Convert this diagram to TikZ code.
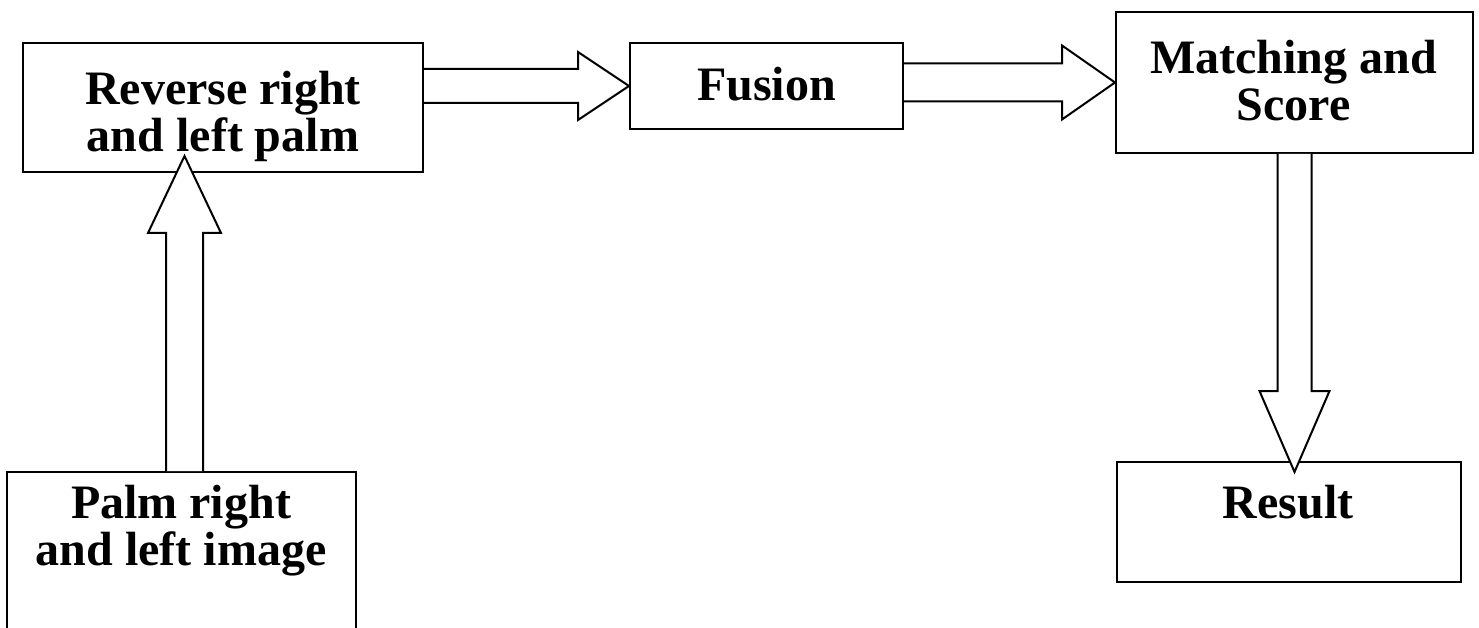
\documentclass[tikz,border=0pt]{standalone}
\usepackage{fontspec}
\setmainfont{Liberation Serif}
\usetikzlibrary{calc}

% Hollow block arrow from #1 to the tip #2:
% #3 = half shaft width, #4 = half head width, #5 = head length (all in pt)
\newcommand\fatarrow[5]{%
  \draw[blk] let \p1=(#1), \p2=(#2), \n1={atan2(\y2-\y1,\x2-\x1)} in
    ($(#1)+(\n1+90:#3pt)$)
    -- ($(#2)+(\n1+180:#5pt)+(\n1+90:#3pt)$)
    -- ($(#2)+(\n1+180:#5pt)+(\n1+90:#4pt)$)
    -- (#2)
    -- ($(#2)+(\n1+180:#5pt)+(\n1-90:#4pt)$)
    -- ($(#2)+(\n1+180:#5pt)+(\n1-90:#3pt)$)
    -- ($(#1)+(\n1-90:#3pt)$);%
}

\begin{document}
\begin{tikzpicture}[x=1pt,y=-1pt,
  box/.style={draw, line width=2pt, rectangle, inner sep=0pt},
  txt/.style={anchor=base, align=center, inner sep=0pt,
    font=\bfseries\fontsize{48}{47}\selectfont},
  blk/.style={draw, line width=2pt, fill=white, line join=miter}]
  \path[use as bounding box] (0,0) rectangle (1479,628);
  \clip (0,0) rectangle (1479,628);

  % process boxes
  \node[box, minimum width=400pt, minimum height=129pt] (rev)   at (223,107.5) {};
  \node[box, minimum width=273pt, minimum height=86pt]  (fus)   at (766.5,86) {};
  \node[box, minimum width=357pt, minimum height=141pt] (match) at (1294.5,82.5) {};
  \node[box, minimum width=344pt, minimum height=120pt] (res)   at (1289,522) {};
  \node[box, minimum width=349pt, minimum height=228pt] (palm)  at (181.5,586) {};

  % arrow end points
  \coordinate (a1s) at (rev.east |- fus.west);
  \coordinate (a2s) at (fus.east |- match.west);
  \coordinate (a3t) at ($(res.north -| match.south)+(0,11)$);
  \coordinate (a4s) at ($(palm.north)+(3,0)$);
  \coordinate (a4t) at ($(a4s |- rev.south)+(0,-17)$);

  % block arrows
  \fatarrow{a1s}{fus.west}{17}{34}{51}
  \fatarrow{a2s}{match.west}{19}{37}{53}
  \fatarrow{match.south}{a3t}{17}{35}{81}
  \fatarrow{a4s}{a4t}{18.5}{36.5}{77}

  % box texts (base = baseline of the last line)
  \node[txt] (revt)   at (223,152)    {Reverse right\\and left palm};
  \node[txt] (fust)   at (766.5,101)  {Fusion};
  \node[txt] (matcht) at (1293.5,121) {Matching and\\Score};
  \node[txt] (rest)   at (1288,518)   {Result};
  \node[txt] (palmt)  at (181,565)    {Palm right\\and left image};
\end{tikzpicture}
\end{document}
